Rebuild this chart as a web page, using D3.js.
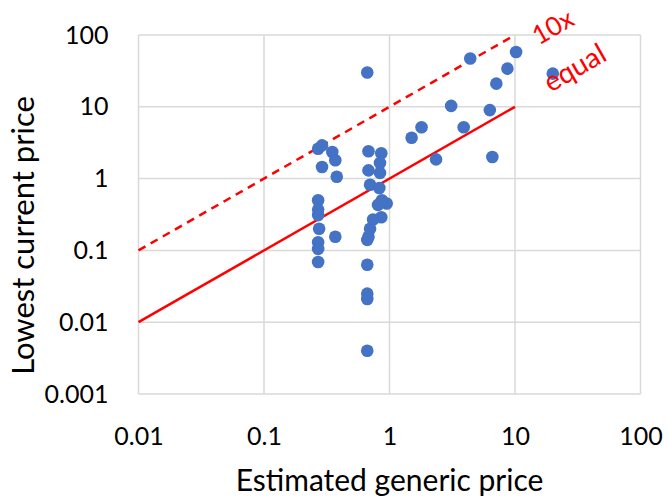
<!DOCTYPE html>
<html>
<head>
<meta charset="utf-8">
<script src="https://cdn.jsdelivr.net/npm/d3@7"></script>
<style>
  body { margin: 0; background: #fff; }
  #chart { width: 668px; height: 500px; }
  text { font-family: Lato, "Open Sans", sans-serif; }
</style>
</head>
<body>
<div id="chart"></div>
<script>
// estimated generic price (x) vs lowest current price (y)
const genericPrice = [
  0.27, 0.29, 0.35, 0.37, 0.29, 0.38, 0.27, 0.27, 0.27, 0.275, 0.37, 0.27, 0.27, 0.27,
  0.68, 0.86, 0.84, 0.68, 0.84, 0.70, 0.83, 0.87, 0.81, 0.95, 0.86, 0.74, 0.70, 0.68,
  0.665, 0.665, 0.665, 0.665, 0.665, 0.665,
  4.4, 10.2, 8.7, 7.1, 3.1, 6.3, 1.8, 1.5, 3.9, 2.35, 6.6, 20
];
const currentPrice = [
  2.6, 2.9, 2.35, 1.8, 1.45, 1.06, 0.5, 0.37, 0.31, 0.2, 0.155, 0.13, 0.105, 0.069,
  2.4, 2.25, 1.65, 1.3, 1.2, 0.82, 0.74, 0.5, 0.43, 0.45, 0.29, 0.27, 0.2, 0.155,
  0.14, 0.063, 0.025, 0.021, 0.004, 30,
  47, 58, 34, 21, 10.3, 9, 5.2, 3.7, 5.2, 1.85, 2.0, 29
];
const xTicks = [0.01, 0.1, 1, 10, 100];
const yTicks = [0.001, 0.01, 0.1, 1, 10, 100];
const equalLine = [[0.01, 0.01], [10, 10]];
const tenXLine = [[0.01, 0.1], [10, 100]];

const width = 668, height = 500;
const margin = { left: 138.5, right: 27.5, top: 35, bottom: 106 };

const svg = d3.select('#chart').append('svg')
  .attr('width', width)
  .attr('height', height);

const x = d3.scaleLog().domain([0.01, 100]).range([margin.left, width - margin.right]);
const y = d3.scaleLog().domain([0.001, 100]).range([height - margin.bottom, margin.top]);

// grid
const grid = svg.append('g').attr('stroke', '#d9d9d9').attr('stroke-width', 1.5);
grid.selectAll('.vx').data(xTicks).join('line')
  .attr('x1', d => x(d)).attr('x2', d => x(d))
  .attr('y1', y(0.001)).attr('y2', y(100));
grid.selectAll('.hy').data(yTicks).join('line')
  .attr('x1', x(0.01)).attr('x2', x(100))
  .attr('y1', d => y(d)).attr('y2', d => y(d));

// axes (labels only)
const xAxis = svg.append('g')
  .attr('transform', `translate(0,${y(0.001)})`)
  .call(d3.axisBottom(x).tickValues(xTicks).tickFormat(d => String(d)).tickSize(0).tickPadding(33));
const yAxis = svg.append('g')
  .attr('transform', `translate(${x(0.01)},0)`)
  .call(d3.axisLeft(y).tickValues(yTicks).tickFormat(d => String(d)).tickSize(0).tickPadding(30));
[xAxis, yAxis].forEach(a => {
  a.select('.domain').remove();
  a.selectAll('text')
    .attr('font-family', 'Lato, "Open Sans", sans-serif')
    .attr('font-size', 25)
    .attr('fill', '#000');
});

// reference lines
const line = d3.line().x(d => x(d[0])).y(d => y(d[1]));
svg.append('path')
  .attr('d', line(equalLine))
  .attr('fill', 'none')
  .attr('stroke', '#ff0000')
  .attr('stroke-width', 2.5);
svg.append('path')
  .attr('d', line(tenXLine))
  .attr('fill', 'none')
  .attr('stroke', '#ff0000')
  .attr('stroke-width', 2.5)
  .attr('stroke-dasharray', '8,6');

// points
svg.append('g').selectAll('circle')
  .data(genericPrice.map((g, i) => [g, currentPrice[i]]))
  .join('circle')
  .attr('cx', d => x(d[0]))
  .attr('cy', d => y(d[1]))
  .attr('r', 6.3)
  .attr('fill', '#4472c4');

// line labels
svg.append('text')
  .attr('transform', 'translate(554,29) rotate(-30)')
  .attr('text-anchor', 'middle')
  .attr('dominant-baseline', 'middle')
  .attr('font-size', 26)
  .attr('fill', '#ff0000')
  .text('10x');
svg.append('text')
  .attr('transform', 'translate(576,70) rotate(-30)')
  .attr('text-anchor', 'middle')
  .attr('dominant-baseline', 'middle')
  .attr('font-size', 28)
  .attr('fill', '#ff0000')
  .text('equal');

// axis titles
svg.append('text')
  .attr('x', (x(0.01) + x(100)) / 2)
  .attr('y', 491)
  .attr('text-anchor', 'middle')
  .attr('font-size', 30)
  .attr('fill', '#000')
  .text('Estimated generic price');
svg.append('text')
  .attr('transform', `translate(34,${(y(0.001) + y(100)) / 2 + 21}) rotate(-90)`)
  .attr('text-anchor', 'middle')
  .attr('font-size', 31)
  .attr('fill', '#000')
  .text('Lowest current price');
</script>
</body>
</html>
